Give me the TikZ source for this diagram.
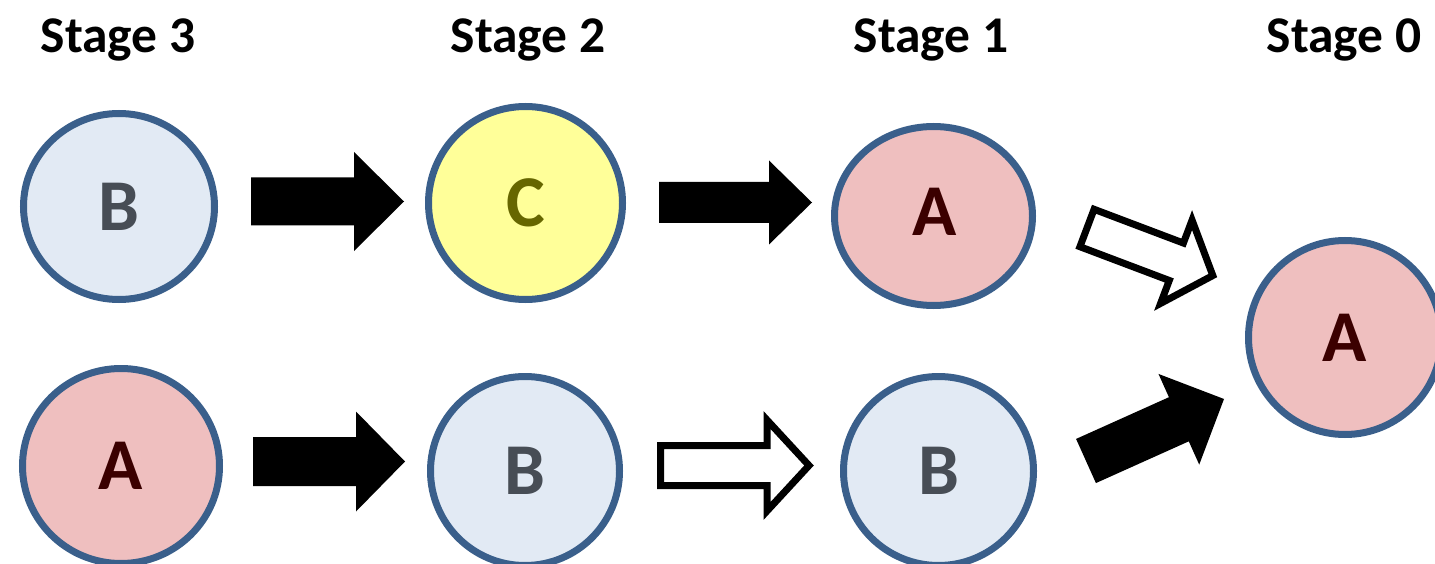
\documentclass[tikz,border=0pt]{standalone}
\usepackage{fontspec}
\setmainfont{Carlito}
\usetikzlibrary{shapes.geometric}

\definecolor{ringblue}{HTML}{3A5F8B}
\definecolor{bluefill}{HTML}{E2EAF4}
\definecolor{pinkfill}{HTML}{EFBFBF}
\definecolor{yellowfill}{HTML}{FFFF99}
\definecolor{btext}{HTML}{474D55}
\definecolor{atext}{HTML}{3B0000}
\definecolor{ctext}{HTML}{666600}

\tikzset{
  state/.style 2 args={ellipse, draw=ringblue, line width=7pt,
    inner sep=0pt, outer sep=0pt, minimum width=#1pt, minimum height=#2pt,
    font={\fontsize{73}{73}\selectfont\bfseries}},
  bstate/.style={fill=bluefill, text=btext},
  astate/.style={fill=pinkfill, text=atext},
  cstate/.style={fill=yellowfill, text=ctext},
  title/.style={anchor=base, font={\fontsize{51.5}{51.5}\selectfont\bfseries}},
  solidarrow/.style={fill=black},
  hollowarrow/.style={draw=black, fill=white, line width=7pt, line join=miter},
  % block arrow along +x: length / shaft half-width / head start / head half-width
  pics/blockarrow/.style args={#1/#2/#3/#4}{code={
    \path[pic actions] (0,-#2) -- (#3,-#2) -- (#3,-#4) -- (#1,0)
      -- (#3,#4) -- (#3,#2) -- (0,#2) -- cycle;
  }}
}

\begin{document}
\begin{tikzpicture}[x=1pt, y=-1pt]
  \useasboundingbox (0,0) rectangle (1435,564);
  \clip (0,0) rectangle (1435,564);

  % stage titles
  \node[title] (t3) at (118,53) {Stage 3};
  \node[title] (t2) at (528,53) {Stage 2};
  \node[title] (t1) at (931,53) {Stage 1};
  \node[title] (t0) at (1344,53) {Stage 0};

  % states
  \node[state={191}{186}, bstate] (s3top) at (119,206.5) {B};
  \node[state={197}{195}, astate] (s3bot) at (121,466) {A};
  \node[state={194}{193}, cstate] (s2top) at (525.5,203) {C};
  \node[state={189}{189}, bstate] (s2bot) at (525,471) {B};
  \node[state={198}{179}, astate] (s1top) at (933.5,216) {};
  \node[font={\fontsize{73}{73}\selectfont\bfseries}, text=atext, inner sep=0pt]
    (s1topl) at (935,212) {A};
  \node[state={190}{189}, bstate] (s1bot) at (938.5,471) {B};
  \node[state={193}{194}, astate] (s0) at (1345,337.5) {A};

  % transitions
  \pic[solidarrow] at (251,201.5) {blockarrow={153/24/103/49.5}};
  \pic[solidarrow] at (659,202.5) {blockarrow={153/20.5/110/42}};
  \pic[solidarrow] at (253,461.5) {blockarrow={152/24.5/103/50}};
  \pic[hollowarrow] at (660.5,465.5) {blockarrow={148.5/20/106.5/45.5}};
  \pic[hollowarrow, rotate=-20.7] at (1087,228) {blockarrow={134.5/20/95.5/44.5}};
  \pic[solidarrow, rotate=24.2] at (1086,461) {blockarrow={151.3/24.2/101.8/49.7}};
\end{tikzpicture}
\end{document}
